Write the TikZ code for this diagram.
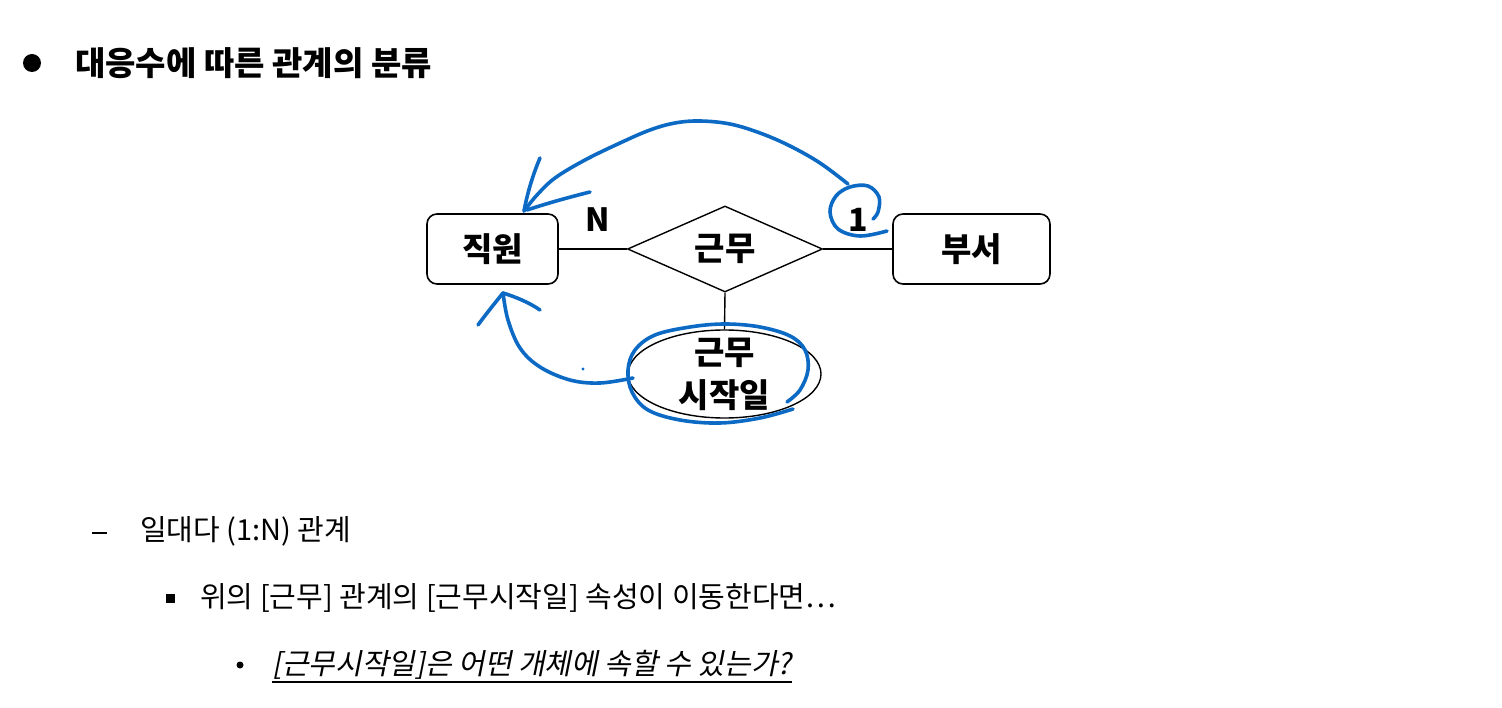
\documentclass[tikz,border=0pt]{standalone}
\usepackage{fontspec}
\setmainfont{Noto Sans CJK KR}
\newfontfamily\slantfont[FakeSlant=0.2]{Noto Sans CJK KR}
\usetikzlibrary{shapes.geometric}
\definecolor{pen}{RGB}{12,106,196}
\tikzset{
  entity/.style={draw, line width=1.6pt, rounded corners=10pt, minimum height=70pt, inner sep=0pt},
  rel/.style={draw, line width=1.4pt, diamond, aspect=2.27, minimum width=195pt, minimum height=86pt, inner sep=0pt},
  attr/.style={draw, line width=1.4pt, ellipse, minimum width=193pt, minimum height=88pt, inner sep=0pt, align=center},
  link/.style={line width=1.4pt},
  lbl/.style={font=\fontsize{33}{43}\selectfont\bfseries, inner sep=0pt},
  body/.style={font=\fontsize{29}{34}\selectfont, anchor=west, inner sep=0pt},
  ink/.style={draw=pen, line width=3.6pt, line cap=round, line join=round},
}
\begin{document}
\begin{tikzpicture}[x=1pt,y=-1pt]
\useasboundingbox (0,0) rectangle (1502,708);
\fill[white] (0,0) rectangle (1502,708);
% title
\fill (32,63) circle (9);
\node[anchor=west, inner sep=0pt, font=\fontsize{33}{38}\selectfont\bfseries] (title) at (75,63) {대응수에 따른 관계의 분류};
% ER diagram
\node[entity, minimum width=131pt] (emp) at (492.5,249) {};
\node[lbl] (empt) at (492.5,249) {직원};
\node[entity, minimum width=157pt] (dept) at (971.5,249) {};
\node[lbl] (deptt) at (971.5,249) {부서};
\node[rel] (work) at (725,249) {};
\node[lbl] (workt) at (725,249) {근무};
\node[attr] (start) at (724.5,374) {};
\node[lbl, align=center] (startt) at (724.5,374) {근무\\시작일};
\draw[link] (emp.east) -- (work.west);
\draw[link] (work.east) -- (dept.west);
\draw[link] (work.south) -- (start.north);
\node[lbl, font=\fontsize{32}{36}\selectfont\bfseries] (N) at (598,220) {N};
\node[lbl, font=\fontsize{32}{36}\selectfont\bfseries] (one) at (858,220) {1};
% blue annotations
\coordinate (tipA) at (524,211);
\coordinate (tipB) at (503,293);
\draw[ink] plot[smooth, tension=0.6] coordinates {(887,231) (860,236) (838,229) (830,212) (836,196) (850,187) (868,186) (879,197) (878,212) (873,219)};
\draw[ink] plot[smooth, tension=0.6] coordinates {(848,184) (820,163) (790,146) (760,133) (730,124) (700,121) (675,123) (650,130) (620,143) (585,160) (555,178) (537,195) (tipA)};
\draw[ink] (tipA) .. controls (528,190) and (534,172) .. (540,158);
\draw[ink] (527,210) .. controls (548,203) and (570,197) .. (590,192);
\draw[ink] plot[smooth, tension=0.6] coordinates {(787,402) (800,390) (808,370) (805,350) (790,336) (760,327) (725,324) (690,327) (655,335) (635,350) (628,370) (632,392) (648,410) (680,420) (720,423) (760,418) (793,409)};
\draw[ink] plot[smooth, tension=0.6] coordinates {(633,378) (600,383) (570,380) (540,367) (520,348) (508,320) (tipB)};
\draw[ink] (tipB) .. controls (495,303) and (486,314) .. (478,325);
\draw[ink] (tipB) .. controls (516,297) and (530,303) .. (540,310);
\fill[pen] (583,369) circle (1.6);
% bottom text
\draw[line width=1.6pt] (92,533) -- (107,533);
\node[body] (l1) at (140,531) {일대다 (1:N) 관계};
\fill (166,594) rectangle (175,603);
\node[body] (l2) at (200,598) {위의 [근무] 관계의 [근무시작일] 속성이 이동한다면…};
\fill (240,665) circle (3.5);
\node[body, font=\fontsize{29}{34}\slantfont] (l3) at (272,665) {[근무시작일]은 어떤 개체에 속할 수 있는가?};
\draw[line width=1.5pt] ([yshift=-2pt]l3.south west) -- ([yshift=-2pt]l3.south east);
\end{tikzpicture}
\end{document}
